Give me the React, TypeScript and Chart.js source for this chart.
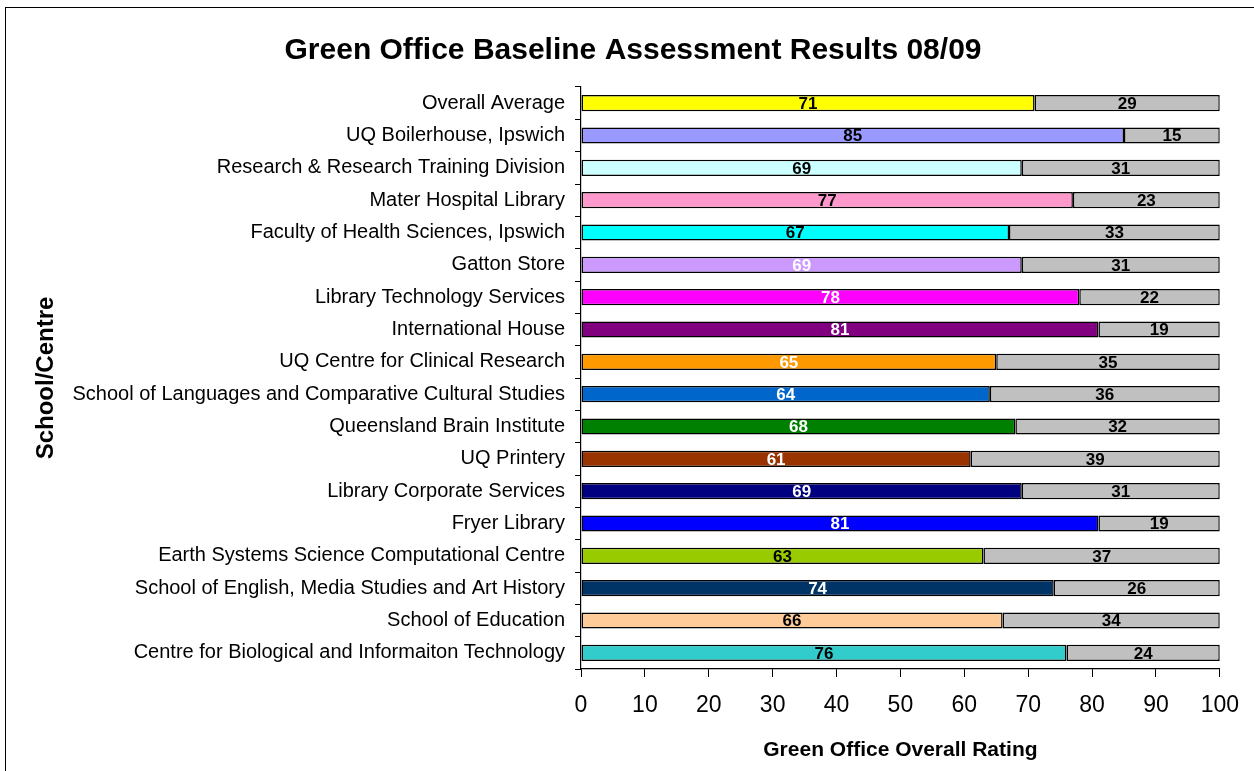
import React, { useEffect, useRef } from "react";
import { Chart, registerables } from "chart.js";

Chart.register(...registerables);

const categories = [
  "Overall Average",
  "UQ Boilerhouse, Ipswich",
  "Research & Research Training Division",
  "Mater Hospital Library",
  "Faculty of Health Sciences, Ipswich",
  "Gatton Store",
  "Library Technology Services",
  "International House",
  "UQ Centre for Clinical Research",
  "School of Languages and Comparative Cultural Studies",
  "Queensland Brain Institute",
  "UQ Printery",
  "Library Corporate Services",
  "Fryer Library",
  "Earth Systems Science Computational Centre",
  "School of English, Media Studies and Art History",
  "School of Education",
  "Centre for Biological and Informaiton Technology",
];

const ratingValues = [71, 85, 69, 77, 67, 69, 78, 81, 65, 64, 68, 61, 69, 81, 63, 74, 66, 76];
const remainderValues = [29, 15, 31, 23, 33, 31, 22, 19, 35, 36, 32, 39, 31, 19, 37, 26, 34, 24];

const barColors = [
  "#FFFF00", "#9999FF", "#CCFFFF", "#FF99CC", "#00FFFF", "#CC99FF",
  "#FF00FF", "#800080", "#FF9900", "#0066CC", "#008000", "#993300",
  "#000080", "#0000FF", "#99CC00", "#003366", "#FFCC99", "#33CCCC",
];
const ratingLabelColors = [
  "#000", "#000", "#000", "#000", "#000", "#fff",
  "#fff", "#fff", "#fff", "#fff", "#fff", "#fff",
  "#fff", "#fff", "#000", "#fff", "#000", "#000",
];
const remainderColor = "#C0C0C0";
const xTicks = [0, 10, 20, 30, 40, 50, 60, 70, 80, 90, 100];

const FONT = "'Liberation Sans', Arial, Helvetica, sans-serif";

const valueLabelPlugin = {
  id: "valueLabels",
  afterDatasetsDraw(chart: any) {
    const ctx = chart.ctx;
    ctx.save();
    ctx.font = `bold 17px ${FONT}`;
    ctx.textAlign = "center";
    ctx.textBaseline = "middle";
    chart.data.datasets.forEach((ds: any, di: number) => {
      const meta = chart.getDatasetMeta(di);
      meta.data.forEach((el: any, j: number) => {
        const cx = (el.x + el.base) / 2;
        ctx.fillStyle = di === 0 ? ratingLabelColors[j] : "#000";
        ctx.fillText(String(ds.data[j]), cx, el.y + 1);
      });
    });
    ctx.restore();
  },
};

export default function App() {
  const canvasRef = useRef<HTMLCanvasElement | null>(null);

  useEffect(() => {
    const canvas = canvasRef.current;
    if (!canvas) return;
    Chart.defaults.font.family = FONT;
    Chart.defaults.color = "#000";
    const chart = new Chart(canvas, {
      type: "bar",
      data: {
        labels: categories,
        datasets: [
          {
            label: "Rating",
            data: ratingValues,
            backgroundColor: barColors,
            borderColor: "#000",
            borderWidth: 1.5,
            borderSkipped: false,
            barPercentage: 0.5,
            categoryPercentage: 1,
          },
          {
            label: "Remainder",
            data: remainderValues,
            backgroundColor: remainderColor,
            borderColor: "#000",
            borderWidth: 1.5,
            borderSkipped: false,
            barPercentage: 0.5,
            categoryPercentage: 1,
          },
        ],
      },
      options: {
        indexAxis: "y",
        animation: false,
        responsive: false,
        maintainAspectRatio: false,
        devicePixelRatio: 1,
        layout: { padding: { left: 32, right: 20, top: 8, bottom: 8 } },
        plugins: {
          legend: { display: false },
          tooltip: { enabled: false },
          title: {
            display: true,
            text: "Green Office Baseline Assessment Results 08/09",
            color: "#000",
            font: { size: 30, weight: "bold", family: FONT },
            padding: { top: 25, bottom: 18 },
          },
        },
        scales: {
          x: {
            stacked: true,
            min: 0,
            max: 100,
            afterBuildTicks(scale: any) {
              scale.ticks = xTicks.map((v) => ({ value: v }));
            },
            afterFit(scale: any) {
              scale.height = 94;
            },
            grid: {
              drawOnChartArea: false,
              drawTicks: true,
              tickLength: 8,
              color: "#000",
              lineWidth: 1,
            },
            border: { display: true, color: "#000", width: 1.2 },
            ticks: {
              color: "#000",
              padding: 15,
              maxRotation: 0,
              autoSkip: false,
              font: { size: 23, family: FONT },
            },
            title: {
              display: true,
              text: "Green Office Overall Rating",
              color: "#000",
              font: { size: 21, weight: "bold", family: FONT },
              padding: { top: 10, bottom: 0 },
            },
          },
          y: {
            stacked: true,
            afterFit(scale: any) {
              scale.width = 549;
            },
            grid: {
              drawOnChartArea: false,
              drawTicks: true,
              tickLength: 6,
              color: "#000",
              lineWidth: 1,
            },
            border: { display: true, color: "#000", width: 1.2 },
            ticks: {
              color: "#000",
              padding: 10,
              autoSkip: false,
              font: { size: 20, family: FONT },
            },
            title: {
              display: true,
              text: "School/Centre",
              color: "#000",
              font: { size: 24, weight: "bold", family: FONT },
              padding: { top: 0, bottom: 0 },
            },
          },
        },
      },
      plugins: [valueLabelPlugin],
    } as any);
    return () => chart.destroy();
  }, []);

  return (
    <div
      style={{
        position: "absolute",
        left: 0,
        top: 0,
        width: 1254,
        height: 771,
        overflow: "hidden",
        background: "#fff",
      }}
    >
      <div
        style={{
          position: "absolute",
          left: 5,
          top: 7,
          width: 1400,
          height: 900,
          border: "1.5px solid #000",
        }}
      />
      <canvas
        ref={canvasRef}
        width={1254}
        height={771}
        style={{ position: "absolute", left: 0, top: 0, width: 1254, height: 771 }}
      />
    </div>
  );
}
